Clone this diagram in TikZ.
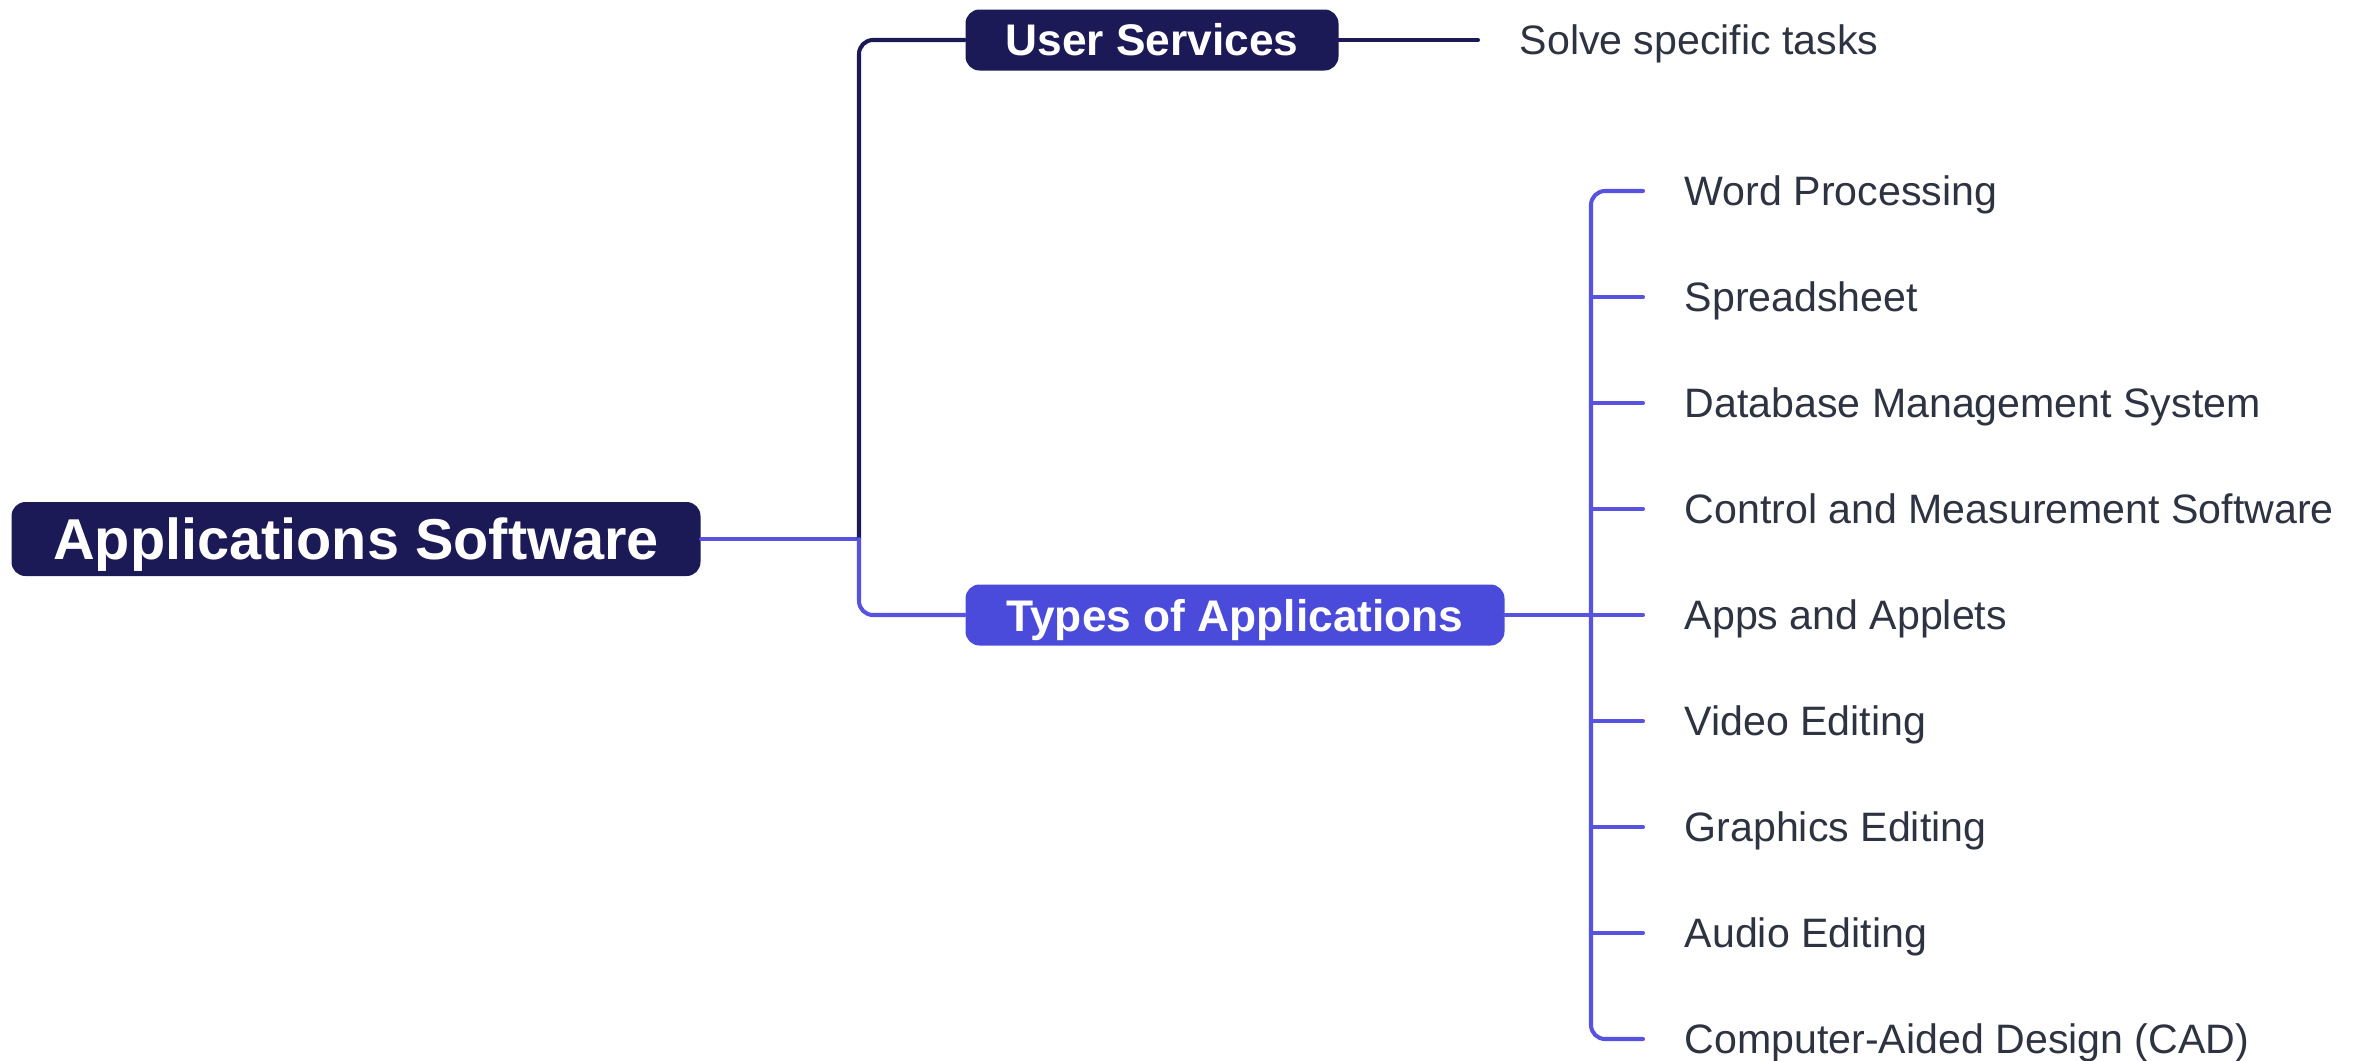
\documentclass[tikz,border=0pt]{standalone}
\usepackage{fontspec}
\setmainfont{Liberation Sans}
\definecolor{navy}{HTML}{1B1A57}
\definecolor{appblue}{HTML}{4B4BDB}
\definecolor{linkblue}{HTML}{5852E0}
\definecolor{leafgray}{HTML}{2E3342}

\begin{document}
\begin{tikzpicture}[x=0.1mm,y=-0.1mm,line cap=round,line join=round,
  box/.style={rounded corners=1.4mm,text=white,inner sep=0pt,text height=9.1pt,text depth=0pt,
    font=\bfseries\fontsize{12.6}{15}\selectfont,minimum height=6.1mm},
  leaf/.style={anchor=west,inner xsep=4.1mm,inner ysep=0pt,text=leafgray,text height=8.4pt,text depth=0pt,
    font=\fontsize{11.7}{14}\selectfont},
  navyline/.style={draw=navy,line width=1.15pt},
  blueline/.style={draw=linkblue,line width=1.15pt}]
\fill[white] (0,0) rectangle (2364,1061);
\useasboundingbox (0,0) rectangle (2364,1061);
% main boxes
\node[box,fill=navy,minimum width=68.9mm,minimum height=7.4mm,text height=11.8pt,
  font=\bfseries\fontsize{16.4}{19}\selectfont] (root) at (356,539) {Applications Software};
\node[box,fill=navy,minimum width=37.3mm] (usr) at (1152,40) {User Services};
\node[box,fill=appblue,minimum width=53.9mm] (types) at (1235,615) {Types of Applications};
\node[leaf] (task) at (1478,40) {Solve specific tasks};
% application kinds
\foreach \name/\txt [count=\i] in {word/Word Processing,sheet/Spreadsheet,dbms/Database Management System,
    ctrl/Control and Measurement Software,apps/Apps and Applets,video/Video Editing,
    gfx/Graphics Editing,audio/Audio Editing,cad/Computer-Aided Design (CAD)}
  \node[leaf] (\name) at (1643,{191+(\i-1)*106}) {\txt};
% connectors
\coordinate (j1) at (859,539);
\coordinate (j2) at (1591,615);
\draw[blueline] (root.east) -- (j1);
\draw[navyline,rounded corners=1.4mm] (j1) |- (usr.west);
\draw[blueline,rounded corners=1.4mm] (j1) |- (types.west);
\draw[navyline] (usr.east) -- (task.west);
\draw[blueline] (types.east) -- (apps.west);
\draw[blueline,rounded corners=1.4mm] (word.west) -| (j2) |- (cad.west);
\foreach \name in {sheet,dbms,ctrl,video,gfx,audio}
  \draw[blueline] (j2 |- \name.west) -- (\name.west);
\end{tikzpicture}
\end{document}
